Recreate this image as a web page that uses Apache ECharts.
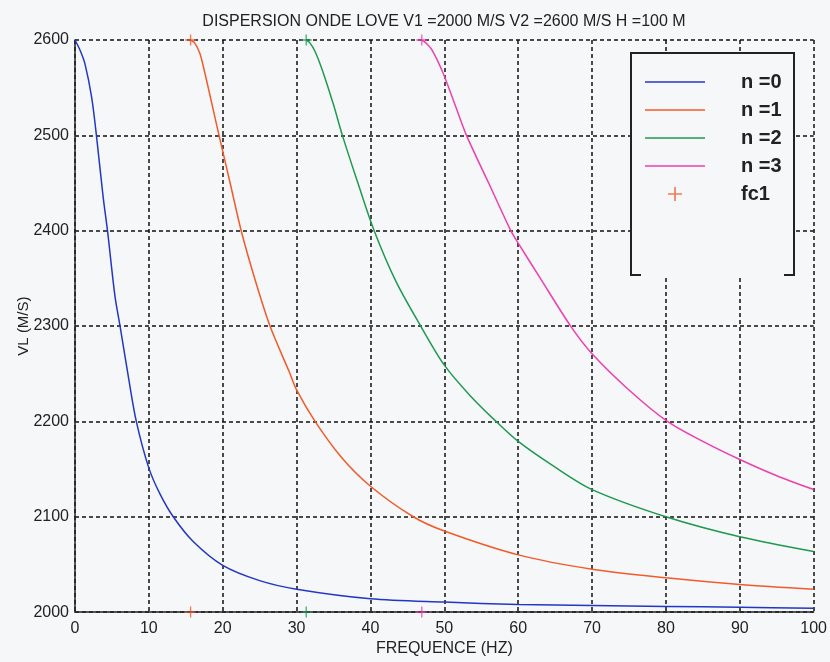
<!DOCTYPE html>
<html>
<head>
<meta charset="utf-8">
<script src="https://cdn.jsdelivr.net/npm/echarts@6/dist/echarts.min.js"></script>
<style>
  html, body { margin: 0; padding: 0; background: #f6f7f9; }
  #chart { width: 830px; height: 662px; }
</style>
</head>
<body>
<div id="chart"></div>
<script>
// valeurs (frequence en Hz, vitesse en m/s)
const n0Freq = [0, 0.7, 1.35, 2.25, 2.9, 3.8, 4.4, 5.4, 6.1, 7.2, 8.3, 10, 11.5, 13.3, 16, 20, 25, 30, 40, 50, 60, 70, 80, 90, 100]
const n0Vel = [2600, 2589, 2575, 2540, 2500, 2436, 2400, 2332, 2300, 2248, 2200, 2151, 2124, 2100, 2074, 2049, 2033, 2024, 2014, 2010.5, 2008, 2007, 2006, 2005, 2004]

const n1Freq = [15.65, 16.2, 16.9, 17.5, 18.3, 19.5, 21, 22.5, 24.4, 26.4, 29, 30, 32.5, 36, 40, 45.8, 50, 60, 70, 80, 90, 100]
const n1Vel = [2600, 2597, 2586, 2568, 2541, 2500, 2450, 2400, 2348, 2300, 2252, 2233, 2200, 2163, 2132, 2100, 2085, 2060, 2045, 2036, 2029, 2024]

const n2Freq = [31.3, 31.8, 32.5, 33.5, 35, 36.2, 38.3, 40.5, 43.5, 46.8, 50, 53.5, 57, 60, 65, 70, 80, 90, 100]
const n2Vel = [2600, 2597, 2588, 2568, 2532, 2500, 2450, 2400, 2346, 2300, 2259, 2227, 2200, 2179, 2152, 2128.5, 2100, 2079, 2063.5]

const n3Freq = [46.95, 47.5, 48.3, 49.8, 51.5, 53, 56, 59, 60, 63, 67.1, 70, 75, 80.2, 85, 90, 95, 100]
const n3Vel = [2600, 2597, 2590, 2566, 2531, 2500, 2450, 2400, 2387, 2350, 2300, 2271, 2233, 2200, 2179, 2160, 2143, 2128.5]

// frequences de coupure (haut et bas du graphe)
const fcFreq = [15.65, 31.3, 46.95, 15.65, 31.3, 46.95]
const fcVel = [2600, 2600, 2600, 2000, 2000, 2000]

const modeNames = ['n =0', 'n =1', 'n =2', 'n =3']
const modeColors = ['#2238c4', '#f25a2a', '#1f9950', '#ee3fae']

const bg = '#f6f7f9'
const font = 'Liberation Sans, Arial, sans-serif'

const pairs = (xs, ys) => xs.map((x, i) => [x, ys[i]])

const chart = echarts.init(document.getElementById('chart'))

const lineSeries = [[n0Freq, n0Vel], [n1Freq, n1Vel], [n2Freq, n2Vel], [n3Freq, n3Vel]].map((d, i) => ({
  name: modeNames[i],
  type: 'line',
  data: pairs(d[0], d[1]),
  symbol: 'none',
  smooth: 0.3,
  lineStyle: { color: modeColors[i], width: 1.5 },
  itemStyle: { color: modeColors[i] },
  z: 2
}))

const plus = 'path://M4.4,0 H5.6 V4.4 H10 V5.6 H5.6 V10 H4.4 V5.6 H0 V4.4 H4.4 Z'
const dash = 'path://M0,0 H60 V1.5 H0 Z'

const option = {
  backgroundColor: bg,
  animation: false,
  title: {
    text: 'DISPERSION ONDE LOVE V1 =2000 M/S V2 =2600 M/S H =100 M',
    left: 439,
    textAlign: 'center',
    top: 9,
    textStyle: { fontFamily: font, fontSize: 16, fontWeight: 'normal', color: '#222' }
  },
  grid: { left: 75, right: 15, top: 40, bottom: 47 },
  xAxis: {
    type: 'value',
    min: 0,
    max: 100,
    interval: 10,
    name: 'FREQUENCE (HZ)',
    nameLocation: 'middle',
    nameGap: 27,
    nameTextStyle: { fontFamily: font, fontSize: 16, color: '#222' },
    axisLine: { lineStyle: { color: '#222', width: 1.5 } },
    axisTick: { show: false },
    axisLabel: { fontFamily: font, fontSize: 16, color: '#222', margin: 8 },
    splitLine: { lineStyle: { color: '#111', width: 1.5, type: [4, 3] } }
  },
  yAxis: {
    type: 'value',
    min: 2000,
    max: 2600,
    interval: 100,
    name: 'VL (M/S)',
    nameLocation: 'middle',
    nameGap: 44,
    nameMoveOverlap: false,
    nameTextStyle: { fontFamily: font, fontSize: 15, color: '#222' },
    axisLine: { show: true, lineStyle: { color: '#222', width: 1.5 } },
    axisTick: { show: false },
    axisLabel: { fontFamily: font, fontSize: 16, color: '#222', margin: 6, formatter: v => String(v) },
    splitLine: { lineStyle: { color: '#111', width: 1.5, type: [4, 3] } }
  },
  graphic: [
    {
      type: 'rect',
      z: 3,
      shape: { x: 631, y: 53, width: 163, height: 222 },
      style: { fill: bg }
    },
    {
      type: 'polyline',
      z: 3,
      shape: { points: [[641, 275], [631, 275], [631, 53], [794, 53], [794, 275], [784, 275]] },
      style: { stroke: '#222', lineWidth: 2, fill: null }
    }
  ],
  legend: {
    orient: 'vertical',
    left: 645,
    top: 72,
    padding: 0,
    itemWidth: 60,
    itemHeight: 14,
    itemGap: 8,
    selectedMode: false,
    z: 5,
    data: modeNames.map(n => ({ name: n, icon: dash })).concat([
      { name: 'fc1', icon: plus, itemStyle: { color: modeColors[1] } }
    ]),
    formatter: name => '{s|}{t|' + name + '}',
    textStyle: {
      rich: {
        s: { width: 31 },
        t: { fontFamily: font, fontSize: 20, fontWeight: 'bold', color: '#222', lineHeight: 14 }
      }
    }
  },
  series: lineSeries.concat([{
    name: 'fc1',
    type: 'scatter',
    data: pairs(fcFreq, fcVel),
    symbol: plus,
    symbolSize: 11,
    clip: false,
    z: 4,
    itemStyle: {
      color: params => modeColors[1 + (params.dataIndex % 3)]
    }
  }])
}

chart.setOption(option)
</script>
</body>
</html>
